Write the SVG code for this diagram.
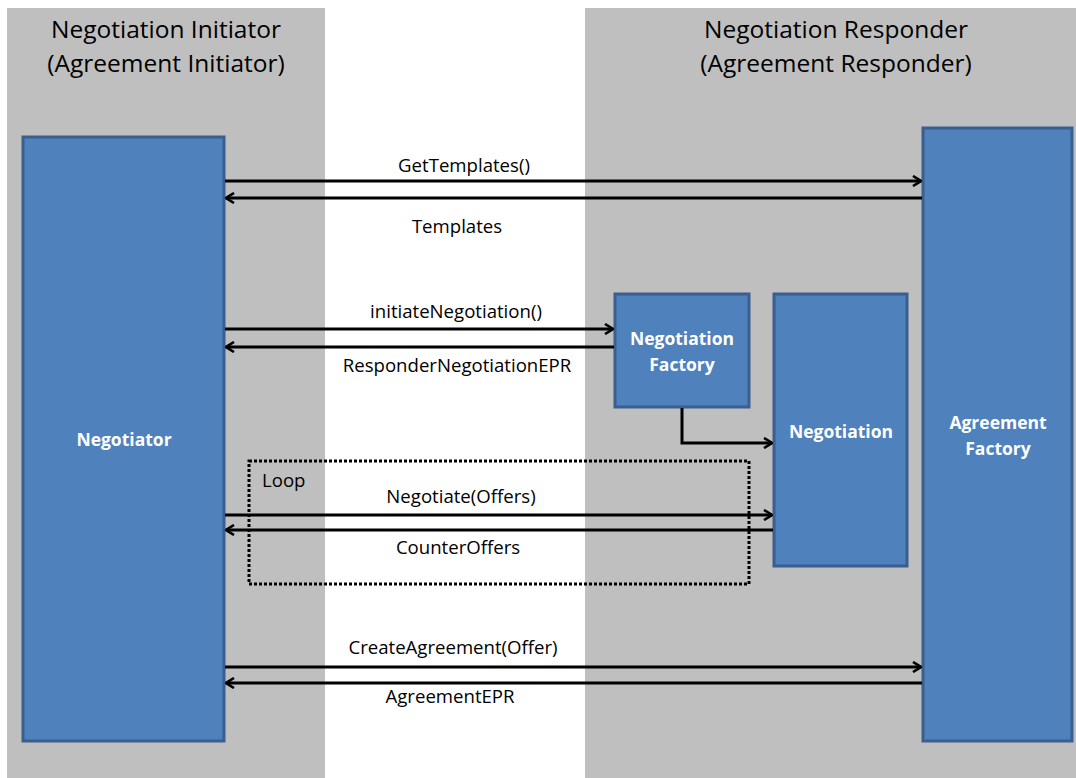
<svg xmlns="http://www.w3.org/2000/svg" width="1076" height="778" viewBox="0 0 1076 778">
<style>
.lane{fill:#bfbfbf}
.box{fill:#4f81bd;stroke:#3a5f8f;stroke-width:3}
.hd{font-family:"Open Sans","Liberation Sans",sans-serif;font-size:24.5px;fill:#000;text-anchor:middle}
.nt{font-family:"Open Sans","Liberation Sans",sans-serif;font-size:17.5px;font-weight:bold;fill:#fff;text-anchor:middle}
.lb{font-family:"Open Sans","Liberation Sans",sans-serif;font-size:18.6px;fill:#000;text-anchor:middle}
.ln{fill:none;stroke:#000;stroke-width:3}
</style>
<defs>
<marker id="ah" viewBox="0 0 12 12" refX="11" refY="6" markerWidth="12" markerHeight="12" markerUnits="userSpaceOnUse" orient="auto">
<polyline points="3,1 11,6 3,11" fill="none" stroke="#000" stroke-width="2.6"/>
</marker>
</defs>
<rect class="lane" x="7" y="8" width="318" height="770"/>
<rect class="lane" x="585" y="8" width="491" height="770"/>
<text class="hd" x="166" y="38">Negotiation Initiator</text>
<text class="hd" x="166" y="72">(Agreement Initiator)</text>
<text class="hd" x="836" y="38">Negotiation Responder</text>
<text class="hd" x="836" y="72">(Agreement Responder)</text>
<g id="negotiator"><rect class="box" x="23" y="137" width="201" height="604"/><text class="nt" x="124" y="446">Negotiator</text></g>
<g id="agreement-factory"><rect class="box" x="923" y="128" width="149" height="613"/><text class="nt" x="998" y="429">Agreement</text><text class="nt" x="998" y="455">Factory</text></g>
<g id="negotiation-factory"><rect class="box" x="615" y="294" width="134" height="113"/><text class="nt" x="682" y="345">Negotiation</text><text class="nt" x="682" y="371">Factory</text></g>
<g id="negotiation"><rect class="box" x="774" y="294" width="133" height="272"/><text class="nt" x="841" y="438">Negotiation</text></g>
<g id="loop"><rect x="249" y="461" width="500" height="123" fill="none" stroke="#000" stroke-width="3" stroke-dasharray="3,2"/><text class="lb" x="262" y="487" style="text-anchor:start">Loop</text></g>
<g id="connectors">
<line class="ln" x1="225" y1="181" x2="921" y2="181" marker-end="url(#ah)"/>
<line class="ln" x1="922" y1="198" x2="226" y2="198" marker-end="url(#ah)"/>
<line class="ln" x1="225" y1="329" x2="613" y2="329" marker-end="url(#ah)"/>
<line class="ln" x1="614" y1="347" x2="226" y2="347" marker-end="url(#ah)"/>
<polyline class="ln" points="682,408 682,443 772,443" marker-end="url(#ah)"/>
<line class="ln" x1="225" y1="515" x2="772" y2="515" marker-end="url(#ah)"/>
<line class="ln" x1="773" y1="530" x2="226" y2="530" marker-end="url(#ah)"/>
<line class="ln" x1="225" y1="667" x2="921" y2="667" marker-end="url(#ah)"/>
<line class="ln" x1="922" y1="683" x2="226" y2="683" marker-end="url(#ah)"/>
</g>
<g id="labels">
<text class="lb" x="464" y="172">GetTemplates()</text>
<text class="lb" x="457" y="233">Templates</text>
<text class="lb" x="456" y="318">initiateNegotiation()</text>
<text class="lb" x="457" y="372">ResponderNegotiationEPR</text>
<text class="lb" x="461" y="503">Negotiate(Offers)</text>
<text class="lb" x="458" y="554">CounterOffers</text>
<text class="lb" x="453" y="654">CreateAgreement(Offer)</text>
<text class="lb" x="450" y="703">AgreementEPR</text>
</g>
</svg>
